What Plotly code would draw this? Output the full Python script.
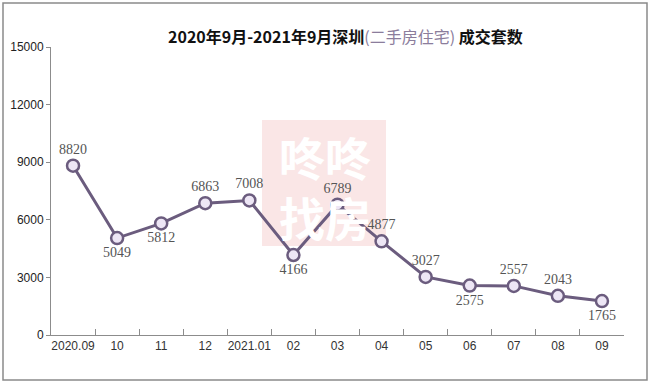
import plotly.graph_objects as go

categories = ["2020.09", "10", "11", "12", "2021.01", "02", "03", "04", "05", "06", "07", "08", "09"]
values = [8820, 5049, 5812, 6863, 7008, 4166, 6789, 4877, 3027, 2575, 2557, 2043, 1765]
label_pos = ["top center", "bottom center", "bottom center", "top center", "top center",
             "bottom center", "top center", "top center", "top center", "bottom center",
             "top center", "top center", "bottom center"]
y_ticks = [0, 3000, 6000, 9000, 12000, 15000]

L, R, T, B = 51, 624, 47, 335
def px(x):
    return (x - L) / (R - L)
def py(y):
    return (B - y) / (B - T)

fig = go.Figure()
fig.add_trace(go.Scatter(
    x=categories, y=values, mode="lines+markers+text",
    text=[str(v) for v in values], textposition=label_pos,
    textfont=dict(family="Liberation Serif", size=14, color="#555555"),
    line=dict(color="#6b5c7e", width=3),
    marker=dict(size=12, color="#ede6f5", line=dict(color="#6b5c7e", width=2.5)),
    cliponaxis=False, showlegend=False, hoverinfo="skip",
))

fig.update_layout(
    width=650, height=383,
    margin=dict(l=L, r=650 - R, t=T, b=383 - B, autoexpand=False),
    paper_bgcolor="white", plot_bgcolor="white",
    xaxis=dict(type="category", range=[-0.5, 12.5], showgrid=False,
               showline=True, linecolor="#8c8c8c", linewidth=1,
               ticks="inside", ticklen=6, tickcolor="#8c8c8c", tickson="boundaries",
               tickangle=0, automargin=False,
               tickfont=dict(family="Liberation Sans", size=12, color="#333333"),
               fixedrange=True),
    yaxis=dict(range=[0, 15000], tickvals=y_ticks, ticktext=[str(v) for v in y_ticks],
               showgrid=False, zeroline=False, automargin=False,
               showline=True, linecolor="#8c8c8c", linewidth=1,
               ticks="outside", ticklen=4, tickcolor="#8c8c8c",
               tickfont=dict(family="Liberation Sans", size=12, color="#222222"),
               fixedrange=True),
    shapes=[
        dict(type="rect", xref="paper", yref="paper",
             x0=px(3), x1=px(647), y0=py(380), y1=py(3),
             line=dict(color="#8a8a8a", width=1.5), fillcolor="rgba(0,0,0,0)", layer="below"),
        dict(type="rect", xref="paper", yref="paper",
             x0=px(262), x1=px(386), y0=py(246), y1=py(120),
             line=dict(width=0), fillcolor="#fae6e6", layer="below"),
    ],
    annotations=[
        dict(xref="paper", yref="paper", x=px(325), y=py(186), showarrow=False,
             text="<b>咚咚<br>找房</b>", align="center",
             font=dict(family="Noto Sans CJK SC", size=46, color="white")),
        dict(xref="paper", yref="paper", x=px(345), y=py(22), showarrow=False,
             text="<b>2020年9月-2021年9月深圳</b><span style='color:#8b7d9c'>(二手房住宅)</span><b> 成交套数</b>",
             font=dict(family="Noto Sans CJK SC", size=16, color="#111111")),
    ],
)

fig.write_html("out.html", config={"displayModeBar": False},
               post_script="document.body.style.margin='0';")
